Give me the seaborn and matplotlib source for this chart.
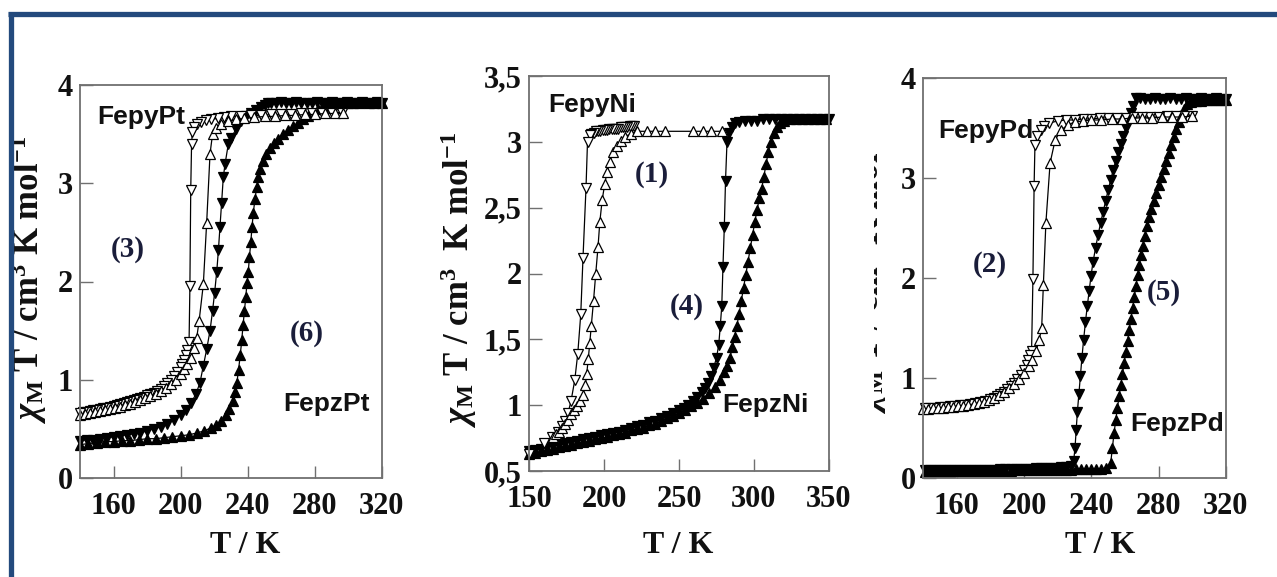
import matplotlib
matplotlib.use("Agg")
import matplotlib.pyplot as plt
from matplotlib.lines import Line2D
from matplotlib.patches import Rectangle
from matplotlib.ticker import FixedLocator, FixedFormatter
import seaborn as sns

W, H = 1277, 577

# ---------------- FepyPt / FepzPt ----------------
pt_py_cool_T = [296, 290, 284, 278, 272, 266, 260, 254, 248, 242,
                236, 230, 226, 222, 218, 215, 212, 210, 208, 207,
                206.5, 206, 205.5, 205, 204, 203, 202, 201, 200, 198,
                196, 194, 192, 190, 188, 186, 184, 182, 180, 178,
                176, 174, 172, 170, 168, 166, 164, 162, 160, 158,
                156, 154, 152, 150, 148, 146, 144, 142, 140]
pt_py_cool_chi = [3.72, 3.72, 3.71, 3.71, 3.71, 3.70, 3.70, 3.70, 3.69, 3.69,
                  3.68, 3.68, 3.67, 3.66, 3.65, 3.64, 3.62, 3.60, 3.57, 3.52,
                  3.40, 2.93, 1.95, 1.38, 1.30, 1.25, 1.20, 1.16, 1.13, 1.08,
                  1.04, 1.00, 0.97, 0.94, 0.91, 0.89, 0.87, 0.85, 0.84, 0.82,
                  0.81, 0.80, 0.79, 0.78, 0.77, 0.76, 0.75, 0.74, 0.73, 0.72,
                  0.71, 0.71, 0.70, 0.69, 0.69, 0.68, 0.67, 0.67, 0.66]

pt_py_heat_T = [140, 143, 146, 149, 152, 155, 158, 161, 164, 167,
                170, 173, 176, 179, 182, 185, 188, 191, 194, 197,
                200, 202, 204, 206, 208, 209.5, 211, 213.5, 215.5, 217.5,
                219, 221, 224, 228, 233, 238, 244, 250, 256, 262,
                268, 274, 280, 286, 292, 297]
pt_py_heat_chi = [0.64, 0.65, 0.66, 0.67, 0.68, 0.69, 0.70, 0.71, 0.72, 0.74,
                  0.75, 0.77, 0.79, 0.81, 0.83, 0.86, 0.89, 0.92, 0.96, 1.00,
                  1.06, 1.11, 1.16, 1.22, 1.32, 1.42, 1.60, 1.97, 2.60, 3.30,
                  3.50, 3.56, 3.60, 3.63, 3.65, 3.66, 3.67, 3.68, 3.68, 3.69,
                  3.69, 3.70, 3.70, 3.71, 3.71, 3.71]

pt_pz_cool_T = [320, 317, 314, 311, 308, 305, 302, 299, 296, 293,
                290, 287, 284, 281, 278, 275, 272, 269, 266, 263,
                260, 257, 254, 252, 250, 248, 245, 242, 239, 236,
                233, 230, 228.4, 226.5, 225.4, 224.4, 223.4, 222.5, 221.5, 220.2,
                219, 217.5, 215.5, 213.5, 211.5, 209, 206, 203, 200, 196,
                192, 188, 184, 180, 176, 172, 168, 164, 160, 156,
                152, 148, 144, 140]
pt_pz_cool_chi = [3.82, 3.83, 3.82, 3.82, 3.83, 3.82, 3.82, 3.83, 3.82, 3.82,
                  3.83, 3.82, 3.82, 3.83, 3.82, 3.82, 3.82, 3.83, 3.82, 3.82,
                  3.83, 3.82, 3.82, 3.82, 3.80, 3.78, 3.75, 3.72, 3.68, 3.63,
                  3.55, 3.46, 3.40, 3.20, 3.06, 2.80, 2.55, 2.32, 2.10, 1.88,
                  1.70, 1.50, 1.31, 1.14, 0.97, 0.85, 0.76, 0.69, 0.64, 0.59,
                  0.55, 0.52, 0.50, 0.48, 0.46, 0.45, 0.44, 0.43, 0.42, 0.41,
                  0.40, 0.39, 0.39, 0.38]

pt_pz_heat_T = [140, 145, 150, 155, 160, 165, 170, 175, 180, 185,
                190, 195, 200, 205, 210, 214, 218, 221, 224, 227,
                229, 231, 232.5, 233.5, 234.5, 235.5, 236.4, 237.2, 238, 238.8,
                239.5, 240.3, 241, 241.8, 242.5, 243.3, 244.3, 245.3, 246.3, 247.5,
                249, 251, 253, 255.5, 258, 261, 264, 267, 270, 273,
                276, 279, 282, 285, 288, 291, 294, 297, 300, 303,
                306, 309, 312, 315, 318, 320]
pt_pz_heat_chi = [0.34, 0.35, 0.36, 0.37, 0.37, 0.38, 0.38, 0.39, 0.40, 0.40,
                  0.41, 0.42, 0.43, 0.44, 0.46, 0.48, 0.51, 0.54, 0.58, 0.64,
                  0.70, 0.78, 0.88, 0.97, 1.10, 1.25, 1.40, 1.56, 1.70, 1.84,
                  1.98, 2.10, 2.25, 2.40, 2.55, 2.70, 2.84, 2.96, 3.06, 3.15,
                  3.23, 3.30, 3.36, 3.41, 3.45, 3.50, 3.54, 3.58, 3.61, 3.65,
                  3.68, 3.72, 3.76, 3.79, 3.80, 3.81, 3.81, 3.82, 3.82, 3.82,
                  3.82, 3.83, 3.82, 3.82, 3.83, 3.82]

# ---------------- FepyNi / FepzNi ----------------
ni_py_cool_T = [220, 218.5, 217, 215.5, 214, 212.5, 211, 209.5, 208, 206.5,
                205, 203.5, 202, 200.5, 199, 197.5, 196, 194.5, 193, 191.5,
                190.5, 189, 188, 186, 184.5, 182.5, 180.5, 178, 176, 174,
                172, 169, 165, 160, 150]
ni_py_cool_chi = [3.12, 3.12, 3.12, 3.11, 3.11, 3.11, 3.11, 3.10, 3.10, 3.10,
                  3.10, 3.10, 3.09, 3.09, 3.09, 3.08, 3.08, 3.08, 3.07, 3.06,
                  3.05, 3.00, 2.65, 2.12, 1.69, 1.39, 1.19, 1.03, 0.94, 0.88,
                  0.84, 0.80, 0.76, 0.71, 0.63]

ni_py_heat_T = [166, 168, 170, 172, 174, 176, 178, 180, 182, 184,
                186, 187.5, 188.5, 189.5, 190.5, 191.5, 193, 194.5, 196, 197.2,
                198.8, 200.5, 202, 204, 206, 208.5, 211, 214, 218, 222,
                228.5, 234, 240.5, 259.5, 266, 271, 278.5]
ni_py_heat_chi = [0.76, 0.78, 0.80, 0.83, 0.86, 0.89, 0.93, 0.96, 0.99, 1.03,
                  1.08, 1.15, 1.24, 1.35, 1.47, 1.60, 1.79, 2.00, 2.20, 2.39,
                  2.56, 2.68, 2.77, 2.85, 2.92, 2.97, 3.01, 3.04, 3.06, 3.08,
                  3.08, 3.08, 3.08, 3.08, 3.08, 3.08, 3.08]

ni_pz_cool_T = [350, 346, 342, 338, 334, 330, 326, 322, 318, 314,
                310, 306, 302, 298, 294, 290, 287, 285, 283, 282,
                281, 280.2, 279.3, 278.5, 277.5, 276.5, 275, 273, 271, 269,
                267, 265, 262, 259, 256, 253, 250, 246, 242, 238,
                234, 230, 226, 222, 218, 214, 210, 206, 202, 198,
                194, 190, 186, 182, 178, 174, 170, 166, 162, 158,
                154, 150]
ni_pz_cool_chi = [3.17, 3.17, 3.17, 3.17, 3.17, 3.17, 3.17, 3.17, 3.17, 3.17,
                  3.17, 3.17, 3.16, 3.16, 3.16, 3.15, 3.14, 3.11, 3.07, 3.00,
                  2.70, 2.35, 2.05, 1.75, 1.60, 1.46, 1.36, 1.28, 1.22, 1.17,
                  1.13, 1.10, 1.06, 1.03, 1.00, 0.98, 0.96, 0.94, 0.92, 0.90,
                  0.88, 0.87, 0.85, 0.84, 0.83, 0.81, 0.80, 0.79, 0.78, 0.77,
                  0.76, 0.75, 0.74, 0.73, 0.72, 0.71, 0.70, 0.69, 0.68, 0.67,
                  0.66, 0.65]

ni_pz_heat_T = [150, 154, 158, 162, 166, 170, 174, 178, 182, 186,
                190, 194, 198, 202, 206, 210, 214, 218, 222, 226,
                230, 234, 238, 242, 246, 250, 254, 258, 262, 266,
                270, 274, 277, 280, 282, 284, 285.5, 287, 288.5, 290,
                291.5, 293, 294.5, 296, 297.5, 299, 300.5, 302, 303.5, 305,
                306.5, 308, 309.5, 311, 313, 315, 317, 320, 324, 328,
                332, 336, 340, 344, 348]
ni_pz_heat_chi = [0.63, 0.64, 0.65, 0.66, 0.67, 0.68, 0.69, 0.70, 0.71, 0.72,
                  0.73, 0.74, 0.75, 0.76, 0.77, 0.78, 0.79, 0.81, 0.82, 0.83,
                  0.85, 0.86, 0.88, 0.90, 0.92, 0.94, 0.96, 0.99, 1.02, 1.05,
                  1.09, 1.14, 1.19, 1.25, 1.30, 1.36, 1.44, 1.52, 1.60, 1.69,
                  1.79, 1.89, 1.99, 2.09, 2.19, 2.29, 2.39, 2.48, 2.57, 2.64,
                  2.73, 2.83, 2.92, 3.00, 3.07, 3.11, 3.14, 3.16, 3.17, 3.17,
                  3.17, 3.17, 3.17, 3.17, 3.17]

# ---------------- FepyPd / FepzPd ----------------
pd_py_cool_T = [300, 295, 290, 285, 280, 275, 270, 265, 260, 255,
                250, 245, 240, 235, 230, 225, 220, 215, 212, 210,
                208, 206.5, 206, 205.3, 204.5, 203.5, 202.5, 201.5, 200, 198,
                196, 194, 192, 190, 188, 186, 184, 182, 180, 177,
                174, 171, 168, 165, 162, 159, 156, 153, 150, 147,
                144, 141]
pd_py_cool_chi = [3.62, 3.62, 3.62, 3.62, 3.61, 3.61, 3.61, 3.61, 3.60, 3.60,
                  3.60, 3.60, 3.59, 3.59, 3.58, 3.58, 3.57, 3.55, 3.52, 3.48,
                  3.42, 3.33, 2.92, 1.99, 1.27, 1.23, 1.18, 1.13, 1.08, 1.03,
                  0.99, 0.95, 0.92, 0.89, 0.86, 0.84, 0.82, 0.80, 0.79, 0.77,
                  0.76, 0.75, 0.74, 0.73, 0.73, 0.72, 0.72, 0.71, 0.71, 0.70,
                  0.70, 0.70]

pd_py_heat_T = [140, 143, 146, 149, 152, 155, 158, 161, 164, 167,
                170, 173, 176, 179, 182, 185, 188, 191, 194, 197,
                200, 203, 205, 207, 209, 210.5, 211.5, 213, 215.5, 218.5,
                222, 226, 230, 235, 240, 246, 252, 258, 264, 270,
                276, 282, 288, 294, 300]
pd_py_heat_chi = [0.69, 0.69, 0.70, 0.70, 0.70, 0.71, 0.71, 0.72, 0.72, 0.73,
                  0.74, 0.75, 0.76, 0.78, 0.80, 0.83, 0.86, 0.90, 0.94, 0.99,
                  1.05, 1.12, 1.18, 1.27, 1.38, 1.50, 1.93, 2.55, 3.15, 3.38,
                  3.48, 3.53, 3.56, 3.57, 3.58, 3.58, 3.59, 3.59, 3.60, 3.60,
                  3.60, 3.61, 3.61, 3.61, 3.62]

pd_pz_cool_T = [320, 317, 314, 311, 308, 305, 302, 299, 296, 293,
                290, 287, 284, 281, 278, 275, 272, 269, 266.5, 265,
                263.5, 262, 260.5, 259, 257.5, 256, 254.5, 253, 251.5, 250,
                248.5, 247, 245.5, 244, 242.5, 241, 239.8, 238.7, 237.6, 236.5,
                235.4, 234.4, 233.5, 232.6, 231.7, 231, 230.3, 229.5, 228, 225,
                222, 219, 216, 213, 210, 207, 204, 201, 198, 195,
                192, 189, 186, 183, 180, 177, 174, 171, 168, 165,
                162, 159, 156, 153, 150, 147, 144, 141]
pd_pz_cool_chi = [3.79, 3.79, 3.80, 3.79, 3.79, 3.80, 3.79, 3.79, 3.80, 3.79,
                  3.79, 3.80, 3.79, 3.79, 3.80, 3.79, 3.79, 3.80, 3.80, 3.72,
                  3.65, 3.58, 3.50, 3.42, 3.34, 3.26, 3.17, 3.08, 2.98, 2.88,
                  2.77, 2.66, 2.55, 2.43, 2.30, 2.16, 2.02, 1.87, 1.72, 1.56,
                  1.38, 1.20, 1.02, 0.84, 0.66, 0.48, 0.30, 0.17, 0.12, 0.11,
                  0.11, 0.10, 0.10, 0.10, 0.10, 0.10, 0.09, 0.09, 0.09, 0.09,
                  0.09, 0.09, 0.09, 0.08, 0.08, 0.08, 0.08, 0.08, 0.08, 0.08,
                  0.08, 0.08, 0.08, 0.08, 0.08, 0.08, 0.08, 0.08]

pd_pz_heat_T = [141, 144, 147, 150, 153, 156, 159, 162, 165, 168,
                171, 174, 177, 180, 183, 186, 189, 192, 195, 198,
                201, 204, 207, 210, 213, 216, 219, 222, 225, 228,
                231, 234, 237, 240, 243, 246, 249, 251.5, 252.5, 253.5,
                254.5, 255.5, 256.5, 257.5, 258.5, 259.5, 260.5, 261.5, 262.5, 263.5,
                264.5, 265.5, 266.5, 267.5, 268.5, 269.5, 270.5, 271.7, 273, 274.3,
                275.6, 277, 278.5, 280, 281.5, 283, 284.5, 286, 287.5, 289,
                290.5, 292, 293.5, 295, 297, 299, 302, 305, 308, 311,
                314, 317, 320]
pd_pz_heat_chi = [0.06, 0.06, 0.06, 0.06, 0.06, 0.06, 0.07, 0.07, 0.07, 0.07,
                  0.07, 0.07, 0.07, 0.07, 0.07, 0.07, 0.07, 0.07, 0.08, 0.08,
                  0.08, 0.08, 0.08, 0.08, 0.08, 0.08, 0.08, 0.08, 0.08, 0.08,
                  0.09, 0.09, 0.09, 0.09, 0.09, 0.09, 0.10, 0.15, 0.30, 0.45,
                  0.58, 0.70, 0.82, 0.93, 1.04, 1.15, 1.26, 1.37, 1.48, 1.59,
                  1.70, 1.81, 1.92, 2.03, 2.13, 2.23, 2.32, 2.42, 2.52, 2.61,
                  2.69, 2.77, 2.85, 2.93, 3.01, 3.09, 3.17, 3.25, 3.33, 3.41,
                  3.49, 3.56, 3.63, 3.69, 3.74, 3.76, 3.77, 3.77, 3.78, 3.78,
                  3.78, 3.78, 3.78]

# ---------------- axis ticks and labels ----------------
xticks_pt = [160, 200, 240, 280, 320]
xticks_ni = [150, 200, 250, 300, 350]
yticks_04 = [0, 1, 2, 3, 4]
yticklabels_04 = ["0", "1", "2", "3", "4"]
yticks_ni = [0.5, 1, 1.5, 2, 2.5, 3, 3.5]
yticklabels_ni = ["0,5", "1", "1,5", "2", "2,5", "3", "3,5"]

ylabel_a = r"$\chi_{\rm M}$ T / cm$^{3}$ K mol$^{-1}$"
ylabel_b = r"$\chi_{\rm M}$ T / cm$^{3}$  K mol$^{-1}$"
xlabel = "T / K"

# ---------------- style ----------------
sns.set_theme(style="white")
plt.rcParams["font.family"] = ["Liberation Serif", "DejaVu Serif"]
plt.rcParams["font.weight"] = "bold"
plt.rcParams["axes.labelweight"] = "bold"
plt.rcParams["mathtext.fontset"] = "custom"
plt.rcParams["mathtext.rm"] = "Liberation Serif:bold"
plt.rcParams["mathtext.it"] = "Liberation Serif:italic"
plt.rcParams["mathtext.bf"] = "Liberation Serif:bold"

SANS = ["Liberation Sans Narrow", "Liberation Sans", "DejaVu Sans"]
SPINE = "#707070"
NAVY = "#1a1d3a"
INK = "#111111"

fig = plt.figure(figsize=(W / 100, H / 100), dpi=100)
fig.patch.set_facecolor("white")


def box(l, t, r, b):
    """pixel box (left, top, right, bottom) -> figure-fraction rect"""
    return [l / W, 1 - b / H, (r - l) / W, (b - t) / H]


def fx(x):
    return x / W


def fy(y):
    return 1 - y / H


def curve(ax, T, chi, marker, filled):
    sns.lineplot(x=T, y=chi, ax=ax, sort=False, estimator=None,
                 color="black", lw=0.9, marker=marker,
                 markersize=6.8 if filled else 6.6,
                 markerfacecolor="black" if filled else "white",
                 markeredgecolor="black", markeredgewidth=0.9,
                 clip_on=False, legend=False)


def style_axes(ax, xlim, xt, ylim, yt, ytl):
    ax.set_xlim(*xlim)
    ax.set_ylim(*ylim)
    ax.xaxis.set_major_locator(FixedLocator(xt))
    ax.xaxis.set_major_formatter(FixedFormatter([str(v) for v in xt]))
    ax.yaxis.set_major_locator(FixedLocator(yt))
    ax.yaxis.set_major_formatter(FixedFormatter(ytl))
    ax.tick_params(direction="in", length=9, width=1.0, color=SPINE,
                   labelsize=22, labelcolor=INK,
                   bottom=True, left=True, top=False, right=False)
    ax.tick_params(axis="x", pad=10)
    ax.tick_params(axis="y", pad=5)
    for s in ax.spines.values():
        s.set_visible(True)
        s.set_color(SPINE)
        s.set_linewidth(1.3)
    ax.set_facecolor("white")


def labels(ax, ylab, ylab_x, ylab_y, xlab_x, xlab_top):
    ax.set_ylabel(ylab, fontsize=25, color=INK)
    ax.yaxis.set_label_coords(fx(ylab_x), fy(ylab_y), transform=fig.transFigure)
    ax.set_xlabel(xlabel, fontsize=23, color=INK)
    ax.xaxis.set_label_coords(fx(xlab_x), fy(xlab_top), transform=fig.transFigure)


def name(ax, x, y, s):
    ax.text(x, y, s, family=SANS, fontweight="bold", fontsize=19,
            ha="left", va="center", color=INK)


def number(ax, x, y, s):
    ax.text(x, y, s, fontweight="bold", fontsize=21,
            ha="center", va="center", color=NAVY)


# ---------------- panel 1: Pt ----------------
ax1 = fig.add_axes(box(80, 85, 382, 478))
curve(ax1, pt_pz_cool_T, pt_pz_cool_chi, "v", True)
curve(ax1, pt_pz_heat_T, pt_pz_heat_chi, "^", True)
curve(ax1, pt_py_cool_T, pt_py_cool_chi, "v", False)
curve(ax1, pt_py_heat_T, pt_py_heat_chi, "^", False)
style_axes(ax1, (140, 320), xticks_pt, (0, 4), yticks_04, yticklabels_04)
labels(ax1, ylabel_a, 49, 280, 245, 531)
name(ax1, 150, 3.67, "FepyPt")
name(ax1, 261, 0.75, "FepzPt")
number(ax1, 168.5, 2.33, "(3)")
number(ax1, 275, 1.47, "(6)")

# ---------------- panel 2: Ni ----------------
ax2 = fig.add_axes(box(529, 76, 829, 471))
curve(ax2, ni_pz_cool_T, ni_pz_cool_chi, "v", True)
curve(ax2, ni_pz_heat_T, ni_pz_heat_chi, "^", True)
curve(ax2, ni_py_cool_T, ni_py_cool_chi, "v", False)
curve(ax2, ni_py_heat_T, ni_py_heat_chi, "^", False)
style_axes(ax2, (150, 350), xticks_ni, (0.5, 3.5), yticks_ni, yticklabels_ni)
labels(ax2, ylabel_b, 479, 280, 678, 531)
name(ax2, 162.7, 3.28, "FepyNi")
name(ax2, 278.5, 1.0, "FepzNi")
number(ax2, 231.7, 2.75, "(1)")
number(ax2, 255, 1.75, "(4)")

# ---------------- panel 3: Pd ----------------
ax3 = fig.add_axes(box(923, 78, 1226, 478))
curve(ax3, pd_pz_cool_T, pd_pz_cool_chi, "v", True)
curve(ax3, pd_pz_heat_T, pd_pz_heat_chi, "^", True)
curve(ax3, pd_py_cool_T, pd_py_cool_chi, "v", False)
curve(ax3, pd_py_heat_T, pd_py_heat_chi, "^", False)
style_axes(ax3, (140, 320), xticks_pt, (0, 4), yticks_04, yticklabels_04)
labels(ax3, ylabel_a, 889, 270, 1100, 531)
# the left part of this axis title is hidden behind the neighbouring panel
ax3.yaxis.label.set_clip_path(Rectangle((fx(874), 0), 1, 1, transform=fig.transFigure))
name(ax3, 149.3, 3.47, "FepyPd")
name(ax3, 262.9, 0.535, "FepzPd")
number(ax3, 179.5, 2.14, "(2)")
number(ax3, 283, 1.85, "(5)")

# ---------------- blue frame ----------------
FRAME = "#234a7d"
fig.add_artist(Line2D([fx(8), 1.0], [fy(13.5), fy(13.5)], transform=fig.transFigure,
                      color=FRAME, lw=3.8, solid_capstyle="butt"))
fig.add_artist(Line2D([fx(10.8), fx(10.8)], [0.0, fy(11.5)], transform=fig.transFigure,
                      color=FRAME, lw=3.8, solid_capstyle="butt"))

fig.savefig("out.png", dpi=100, facecolor="white")
